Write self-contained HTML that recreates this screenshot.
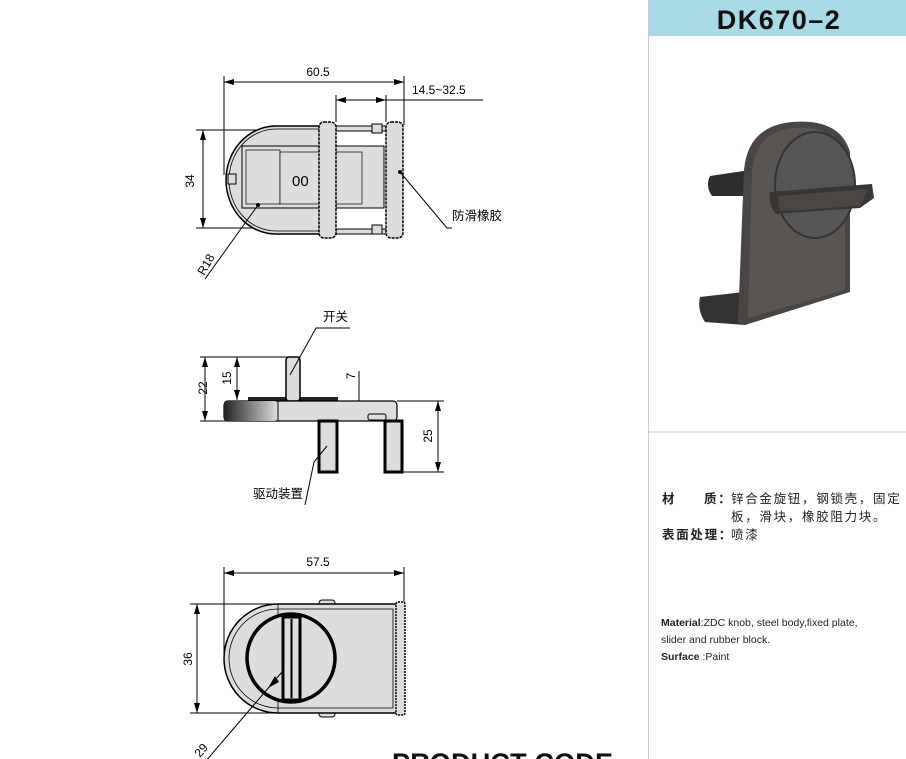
<!DOCTYPE html>
<html><head><meta charset="utf-8"><style>
html,body{margin:0;padding:0;background:#fff;width:906px;height:759px;overflow:hidden}
svg{display:block}
text{font-family:"Liberation Sans","Noto Sans CJK SC",sans-serif}
</style></head><body>
<svg width="906" height="759" viewBox="0 0 906 759" xmlns="http://www.w3.org/2000/svg">
<defs>
<marker id="a" viewBox="0 0 10 6" refX="10" refY="3" markerWidth="10" markerHeight="6" orient="auto-start-reverse" markerUnits="userSpaceOnUse"><path d="M0,0L10,3L0,6z" fill="#000"/></marker>
<linearGradient id="g" x1="0" x2="1"><stop offset="0" stop-color="#222"/><stop offset="1" stop-color="#ddd"/></linearGradient>
</defs>

<!-- right panel -->
<rect x="648" y="0" width="258" height="36" fill="#a9d9e5"/>
<line x1="648.5" y1="0" x2="648.5" y2="759" stroke="#ccc"/>
<line x1="648" y1="432" x2="906" y2="432" stroke="#ccc"/>
<text x="779" y="29" text-anchor="middle" font-size="27" font-weight="bold" letter-spacing="1.5" fill="#111">DK670–2</text>

<!-- product photo -->
<g>
<path d="M710,176 L750,170 L752,196 L712,196 Q705,186 710,176z" fill="#2e2e2e"/>
<path d="M700,297 L744,292 L746,325 L705,322 Q697,310 700,297z" fill="#333"/>
<path d="M738,322 L744,170 Q748,126 792,122 Q840,118 850,152 L850,292 L745,325z" fill="#4a4542"/>
<path d="M748,318 L752,172 Q756,132 792,128 Q832,124 845,154 L845,290z" fill="#5a5450"/>
<ellipse cx="815" cy="185" rx="40" ry="53" fill="#555" stroke="#333" stroke-width="2"/>
<path d="M770,192 L872,184 L874,198 L860,208 L776,214 Q768,205 770,192z" fill="#3a3634"/>
<path d="M778,196 L868,189 L860,206 L780,211z" fill="#4b4644"/>
</g>

<g font-size="12.5" fill="#222" letter-spacing="1.7">
<text x="662" y="503" font-weight="bold">材</text>
<text x="704" y="503" font-weight="bold">质：</text>
<text x="731" y="503">锌合金旋钮，钢锁壳，固定</text>
<text x="731" y="521">板，滑块，橡胶阻力块。</text>
<text x="662" y="539" font-weight="bold">表面处理：</text>
<text x="731" y="539">喷漆</text>
</g>
<g font-size="10.5" fill="#222">
<text x="661" y="626"><tspan font-weight="bold">Material</tspan>:ZDC knob, steel body,fixed plate,</text>
<text x="661" y="643">slider and rubber block.</text>
<text x="661" y="660"><tspan font-weight="bold">Surface</tspan> :Paint</text>
</g>

<!-- drawing 1 -->
<g stroke="#000" fill="none" stroke-width="1">
<line x1="224" y1="76" x2="224" y2="175"/>
<line x1="404" y1="76" x2="404" y2="125"/>
<line x1="224" y1="82" x2="404" y2="82" marker-start="url(#a)" marker-end="url(#a)"/>
<line x1="336" y1="95" x2="336" y2="122"/>
<line x1="386" y1="95" x2="386" y2="122"/>
<line x1="336" y1="100" x2="386" y2="100" marker-start="url(#a)" marker-end="url(#a)"/>
<line x1="386" y1="100" x2="483" y2="100"/>
<line x1="196" y1="130" x2="320" y2="130"/>
<line x1="196" y1="228" x2="320" y2="228"/>
<line x1="203" y1="130" x2="203" y2="228" marker-start="url(#a)" marker-end="url(#a)"/>
</g>
<text x="318" y="76" font-size="12" text-anchor="middle">60.5</text>
<text x="412" y="94" font-size="12">14.5~32.5</text>
<text transform="translate(194,181) rotate(-90)" font-size="12" text-anchor="middle">34</text>
<path d="M320,126 L276,126 A50,54 0 0 0 276,234 L320,234z" fill="#ddd" stroke="#000" stroke-width="1.5"/>
<path d="M320,129 L276,129 A47,51 0 0 0 276,231 L320,231" fill="none" stroke="#000" stroke-width="0.8"/>
<rect x="242" y="146" width="142" height="62" fill="#ddd" stroke="#000"/>
<rect x="246" y="150" width="34" height="54" fill="#ddd" stroke="#000" stroke-width="0.7"/>
<rect x="280" y="152" width="82" height="52" fill="#ddd" stroke="#000" stroke-width="0.7"/>
<text x="292" y="186" font-size="15">00</text>
<rect x="228" y="174" width="8" height="10" fill="#ddd" stroke="#000"/>
<rect x="336" y="126" width="50" height="5" fill="#ddd" stroke="#000"/>
<rect x="336" y="229" width="50" height="5" fill="#ddd" stroke="#000"/>
<rect x="372" y="124" width="10" height="9" fill="#ddd" stroke="#000"/>
<rect x="372" y="225" width="10" height="9" fill="#ddd" stroke="#000"/>
<rect x="319" y="122" width="17" height="116" rx="5" fill="#ddd" stroke="#000" stroke-width="1.5" stroke-dasharray="3 1"/>
<rect x="386" y="122" width="17" height="116" rx="5" fill="#ddd" stroke="#000" stroke-width="1.5" stroke-dasharray="3 1"/>
<g stroke="#000" fill="none">
<polyline points="400,172 447,228 452,228"/>
<line x1="258" y1="205" x2="205" y2="279"/>
</g>
<circle cx="400" cy="172" r="2" fill="#000"/>
<circle cx="258" cy="205" r="2" fill="#000"/>
<text x="452" y="220" font-size="12.5">防滑橡胶</text>
<text transform="translate(204,276) rotate(-60)" font-size="12">R18</text>

<!-- drawing 2 -->
<g stroke="#000" fill="none">
<line x1="200" y1="357" x2="300" y2="357"/>
<line x1="200" y1="421" x2="230" y2="421"/>
<line x1="205" y1="357" x2="205" y2="421" marker-start="url(#a)" marker-end="url(#a)"/>
<line x1="237" y1="357" x2="237" y2="400" marker-start="url(#a)" marker-end="url(#a)"/>
<line x1="397" y1="401" x2="444" y2="401"/>
<line x1="400" y1="472" x2="444" y2="472"/>
<line x1="438" y1="401" x2="438" y2="472" marker-start="url(#a)" marker-end="url(#a)"/>
<line x1="359" y1="371" x2="359" y2="421"/>
</g>
<path d="M355,405 L359,400 L363,405 L359,410z M355,416 L359,421 L363,416 L359,411z" fill="#000"/>
<text transform="translate(207,388) rotate(-90)" font-size="12" text-anchor="middle">22</text>
<text transform="translate(231,378) rotate(-90)" font-size="12" text-anchor="middle">15</text>
<text transform="translate(355,376) rotate(-90)" font-size="12" text-anchor="middle">7</text>
<text transform="translate(432,436) rotate(-90)" font-size="12" text-anchor="middle">25</text>
<rect x="248" y="397" width="90" height="4" fill="#222"/>
<rect x="286" y="357" width="14" height="44" rx="3" fill="#ddd" stroke="#000" stroke-width="1.5"/>
<rect x="224" y="401" width="173" height="20" rx="4" fill="#ddd" stroke="#000" stroke-width="1.2"/>
<rect x="224" y="401" width="54" height="20" rx="4" fill="url(#g)"/>
<line x1="278" y1="401" x2="278" y2="421" stroke="#000"/>
<rect x="368" y="414" width="18" height="6" rx="2" fill="#ddd" stroke="#000"/>
<rect x="319" y="421" width="18" height="51" fill="#ddd" stroke="#000" stroke-width="3"/>
<rect x="385" y="421" width="17" height="51" fill="#ddd" stroke="#000" stroke-width="3"/>
<g stroke="#000" fill="none">
<polyline points="290,375 316,328 350,328"/>
<polyline points="327,446 314,462 305,505"/>
</g>
<text x="323" y="321" font-size="12.5">开关</text>
<text x="253" y="498" font-size="12.5">驱动装置</text>

<!-- drawing 3 -->
<g stroke="#000" fill="none">
<line x1="224" y1="567" x2="224" y2="662"/>
<line x1="404" y1="567" x2="404" y2="602"/>
<line x1="224" y1="573" x2="404" y2="573" marker-start="url(#a)" marker-end="url(#a)"/>
<line x1="190" y1="604" x2="280" y2="604"/>
<line x1="190" y1="713" x2="280" y2="713"/>
<line x1="197" y1="604" x2="197" y2="713" marker-start="url(#a)" marker-end="url(#a)"/>
</g>
<text x="318" y="566" font-size="12" text-anchor="middle">57.5</text>
<text transform="translate(192,659) rotate(-90)" font-size="12" text-anchor="middle">36</text>
<rect x="319" y="600" width="16" height="8" rx="3" fill="#ddd" stroke="#000"/>
<rect x="319" y="709" width="16" height="8" rx="3" fill="#ddd" stroke="#000"/>
<path d="M278,604 L398,604 L398,713 L278,713 A54,54.5 0 0 1 278,604z" fill="#ddd" stroke="#000" stroke-width="1.5"/>
<path d="M278,609 L393,609 L393,708 L278,708 A49,49.5 0 0 1 278,609z" fill="none" stroke="#000" stroke-width="0.8"/>
<line x1="278" y1="604" x2="278" y2="713" stroke="#000" stroke-width="0.8"/>
<rect x="396" y="602" width="9" height="113" rx="2" fill="#ddd" stroke="#000" stroke-width="1.5" stroke-dasharray="2 1"/>
<circle cx="291" cy="658" r="44" fill="#ddd" stroke="#000" stroke-width="3.5"/>
<rect x="283" y="617" width="17" height="83" fill="#ddd" stroke="#000" stroke-width="3"/>
<line x1="291.5" y1="619" x2="291.5" y2="698" stroke="#000" stroke-width="2"/>
<line x1="282" y1="672" x2="205" y2="762" stroke="#000"/>
<path d="M268,688 L275,676 L279,682z" fill="#000"/>
<text transform="translate(200,758) rotate(-50)" font-size="12">29</text>
<text x="392" y="772" font-size="27" font-weight="bold" textLength="221" fill="#111">PRODUCT CODE</text>
</svg>
</body></html>
